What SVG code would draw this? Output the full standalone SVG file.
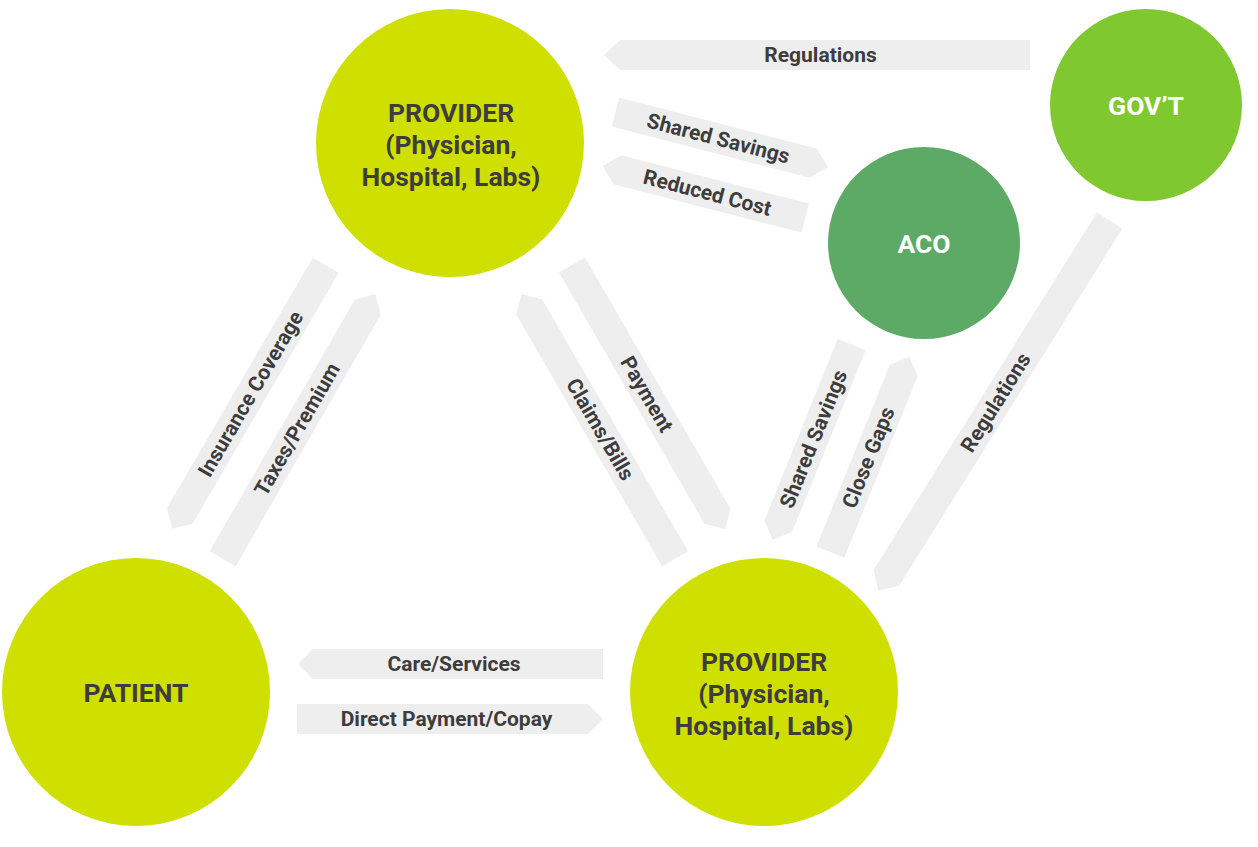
<svg xmlns="http://www.w3.org/2000/svg" width="1258" height="847" viewBox="0 0 1258 847">
<style>
.band{fill:#eeeeee}
.lbl{font-family:Roboto,"Liberation Sans",sans-serif;font-weight:700;font-size:21px;fill:#3d3d3d;text-anchor:middle;dominant-baseline:central}
.nt{font-family:Roboto,"Liberation Sans",sans-serif;font-weight:700;font-size:26.5px;text-anchor:middle;dominant-baseline:central}
.dark{fill:#3d3d3d}
.white{fill:#ffffff}
.lime{fill:#cfdf00}
</style>
<rect width="1258" height="847" fill="#ffffff"/>
<g id="connectors">
  <g transform="translate(817,55)"><path class="band" d="M213,-15 H-197 L-213,0 L-197,15 H213 Z"/><text class="lbl" x="3.5" y="0">Regulations</text></g>
  <g transform="translate(721.7,139.5) rotate(14.5)"><path class="band" d="M-109.75,-15 H94.75 L109.75,0 L94.75,15 H-109.75 Z"/><text class="lbl" x="-3.5" y="0">Shared Savings</text></g>
  <g transform="translate(704,192) rotate(14.4)"><path class="band" d="M104.5,-15 H-89.5 L-104.5,0 L-89.5,15 H104.5 Z"/><text class="lbl" x="3.5" y="0">Reduced Cost</text></g>
  <g transform="translate(249,397) rotate(-59.8)"><path class="band" d="M152.5,-15 H-137.5 L-152.5,0 L-137.5,15 H152.5 Z"/><text class="lbl" x="3.5" y="0">Insurance Coverage</text></g>
  <g transform="translate(299,426.4) rotate(-60)"><path class="band" d="M-152.75,-15 H137.75 L152.75,0 L137.75,15 H-152.75 Z"/><text class="lbl" x="-3.5" y="0">Taxes/Premium</text></g>
  <g transform="translate(598.4,426.4) rotate(59.9)"><path class="band" d="M153,-15 H-138 L-153,0 L-138,15 H153 Z"/><text class="lbl" x="3.5" y="0">Claims/Bills</text></g>
  <g transform="translate(648.5,397.2) rotate(59.9)"><path class="band" d="M-152.7,-15 H137.7 L152.7,0 L137.7,15 H-152.7 Z"/><text class="lbl" x="-3.5" y="0">Payment</text></g>
  <g transform="translate(812.2,442.4) rotate(-68)"><path class="band" d="M105.35,-15 H-90.35 L-105.35,0 L-90.35,15 H105.35 Z"/><text class="lbl" x="3.5" y="0">Shared Savings</text></g>
  <g transform="translate(869.9,454.4) rotate(-68)"><path class="band" d="M-105.3,-15 H90.3 L105.3,0 L90.3,15 H-105.3 Z"/><text class="lbl" x="-3.5" y="0">Close Gaps</text></g>
  <g transform="translate(994,405.6) rotate(-58)"><path class="band" d="M218.3,-15 H-203.3 L-218.3,0 L-203.3,15 H218.3 Z"/><text class="lbl" x="3.5" y="0">Regulations</text></g>
  <g transform="translate(450.5,664)"><path class="band" d="M152.5,-15 H-137.5 L-152.5,0 L-137.5,15 H152.5 Z"/><text class="lbl" x="3.5" y="0">Care/Services</text></g>
  <g transform="translate(450,719)"><path class="band" d="M-153,-15 H138 L153,0 L138,15 H-153 Z"/><text class="lbl" x="-3.5" y="0">Direct Payment/Copay</text></g>
</g>
<g id="provider-top">
  <circle class="lime" cx="450" cy="143" r="134"/>
  <text class="nt dark" x="451" y="112">PROVIDER</text>
  <text class="nt dark" x="451" y="144">(Physician,</text>
  <text class="nt dark" x="451" y="176">Hospital, Labs)</text>
</g>
<g id="govt">
  <circle cx="1146" cy="105" r="96" fill="#80c830"/>
  <text class="nt white" x="1146" y="105">GOV’T</text>
</g>
<g id="aco">
  <circle cx="924" cy="243" r="96" fill="#5daa67"/>
  <text class="nt white" x="924" y="243">ACO</text>
</g>
<g id="patient">
  <circle class="lime" cx="136" cy="692" r="134"/>
  <text class="nt dark" x="136" y="692">PATIENT</text>
</g>
<g id="provider-bottom">
  <circle class="lime" cx="764" cy="692" r="134"/>
  <text class="nt dark" x="764" y="661">PROVIDER</text>
  <text class="nt dark" x="764" y="693">(Physician,</text>
  <text class="nt dark" x="764" y="725">Hospital, Labs)</text>
</g>
</svg>
